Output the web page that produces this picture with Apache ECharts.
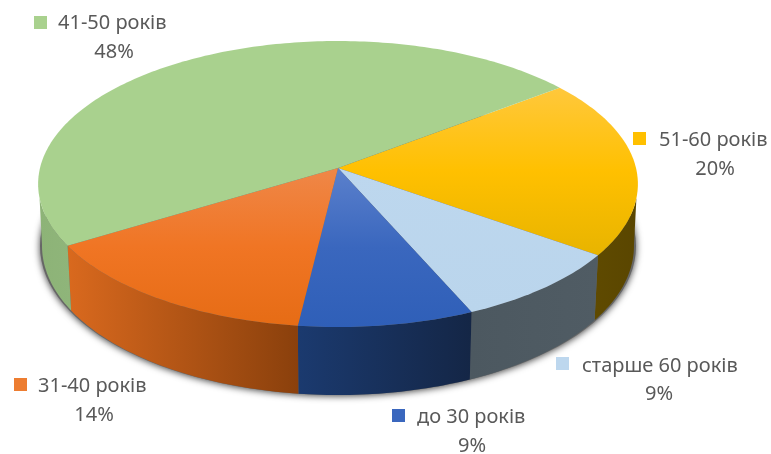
<!DOCTYPE html>
<html>
<head>
<meta charset="utf-8">
<style>
  html, body { margin: 0; padding: 0; background: #fff; }
  #main { width: 771px; height: 454px; }
</style>
<script src="https://cdn.jsdelivr.net/npm/echarts@6/dist/echarts.min.js"></script>
</head>
<body>
<div id="main"></div>
<script>
// clockwise from the green/yellow edge at the back right
const categories = ['51-60 років', 'старше 60 років', 'до 30 років', '31-40 років', '41-50 років'];
// labels show them rounded
const shares = [20.2, 8.6, 8.5, 14.4, 48.3];

// top face stops, wall gradient left -> right, legend position
const looks = [
  { top: ['#FFC83C', '#FFC000', '#E8B400'], wall: ['#5F4A00', '#5A4600'], marker: '#FFC000', mx: 633, my: 132, tx: 659, ty: 140, px: 715, py: 169 },
  { top: ['#BDD7EE', '#BAD5EC'], wall: ['#4C5860', '#505C64'], marker: '#BDD7EE', mx: 556, my: 357, tx: 582, ty: 366, px: 659, py: 394 },
  { top: ['#5B80CC', '#3A67BE', '#2F5FB8'], wall: ['#1B3A6F', '#142646'], marker: '#3A67BE', mx: 392, my: 409, tx: 417, ty: 417, px: 472, py: 446 },
  { top: ['#EF8748', '#F07524', '#E66C15'], wall: ['#D9691E', '#8A400C'], marker: '#ED7D31', mx: 14, my: 378, tx: 38, ty: 386, px: 94, py: 415 },
  { top: ['#A9D18E', '#A9D18E'], wall: ['#8DB377', '#8FB57A'], marker: '#A9D18E', mx: 34, my: 16, tx: 58, ty: 23, px: 114, py: 52 }
];

// perspective disc: apex of the pie sits above the ellipse centre
const cx = 338, cy = 168, rx = 298, ry = 141.2, persp = 0.112;
const startDeg = -37.4;
const toRad = Math.PI / 180;

function rim(deg) {
  const s = Math.sin(deg * toRad), c = Math.cos(deg * toRad);
  const w = 1 - persp * s;
  return [cx + rx * c / w, cy + ry * s / w];
}
function base(deg) {
  const p = rim(deg);
  return [cx + (p[0] - cx) * 0.987, p[1] + 61 + 7 * Math.sin(deg * toRad)];
}
function arc(fn, a, b) {
  const pts = [];
  const n = Math.max(1, Math.ceil(Math.abs(b - a)));
  for (let i = 0; i <= n; i++) pts.push(fn(a + (b - a) * i / n));
  return pts;
}
function grad(colors, vertical) {
  return new echarts.graphic.LinearGradient(0, 0, vertical ? 0 : 1, vertical ? 1 : 0,
    colors.map((c, k) => ({ offset: k / (colors.length - 1), color: c })));
}

const total = shares.reduce((a, b) => a + b, 0);

function renderSlice(params, api) {
  const i = params.dataIndex;
  const value = api.value(0);
  const look = looks[i];
  let before = 0;
  for (let k = 0; k < i; k++) before += shares[k];
  const a0 = startDeg + before / total * 360;
  const a1 = a0 + value / total * 360;
  const children = [];

  // wall only on the front part of the rim
  if (a1 > 6 && a0 < 174) {
    const wa = Math.max(a0, 12), wb = Math.min(a1, 168);
    const ba = Math.max(a0, 6), bb = Math.min(a1, 174);
    children.push({
      type: 'polygon',
      shape: { points: arc(rim, wa, wb).concat(arc(base, bb, ba)) },
      style: { fill: grad(look.wall, false) }
    });
  }
  children.push({
    type: 'polygon',
    shape: { points: [[cx, cy]].concat(arc(rim, a0, a1)) },
    style: { fill: grad(look.top, true) }
  });

  // label: marker, name, percent
  children.push({
    type: 'rect',
    shape: { x: look.mx, y: look.my, width: 13, height: 13 },
    style: { fill: look.marker }
  });
  children.push({
    type: 'text',
    style: { x: look.tx, y: look.ty, text: categories[i], fill: '#595959', font: '20px "Noto Sans"', textAlign: 'left', textVerticalAlign: 'middle' }
  });
  children.push({
    type: 'text',
    style: { x: look.px, y: look.py, text: Math.round(value) + '%', fill: '#595959', font: '20px "Noto Sans"', textAlign: 'center', textVerticalAlign: 'middle' }
  });
  return { type: 'group', children: children };
}

const chart = echarts.init(document.getElementById('main'), null, { renderer: 'canvas' });
chart.setOption({
  animation: false,
  backgroundColor: '#fff',
  graphic: [{
    // soft shadow under the whole pie
    type: 'ellipse',
    z: 0,
    shape: { cx: cx, cy: 246, rx: 298, ry: 149 },
    style: { fill: '#666', shadowBlur: 7, shadowColor: 'rgba(0,0,0,0.75)', shadowOffsetY: 1 }
  }],
  series: [{
    type: 'custom',
    coordinateSystem: 'none',
    z: 5,
    renderItem: renderSlice,
    data: shares.map((v, i) => ({ name: categories[i], value: [v] }))
  }]
});
</script>
</body>
</html>
